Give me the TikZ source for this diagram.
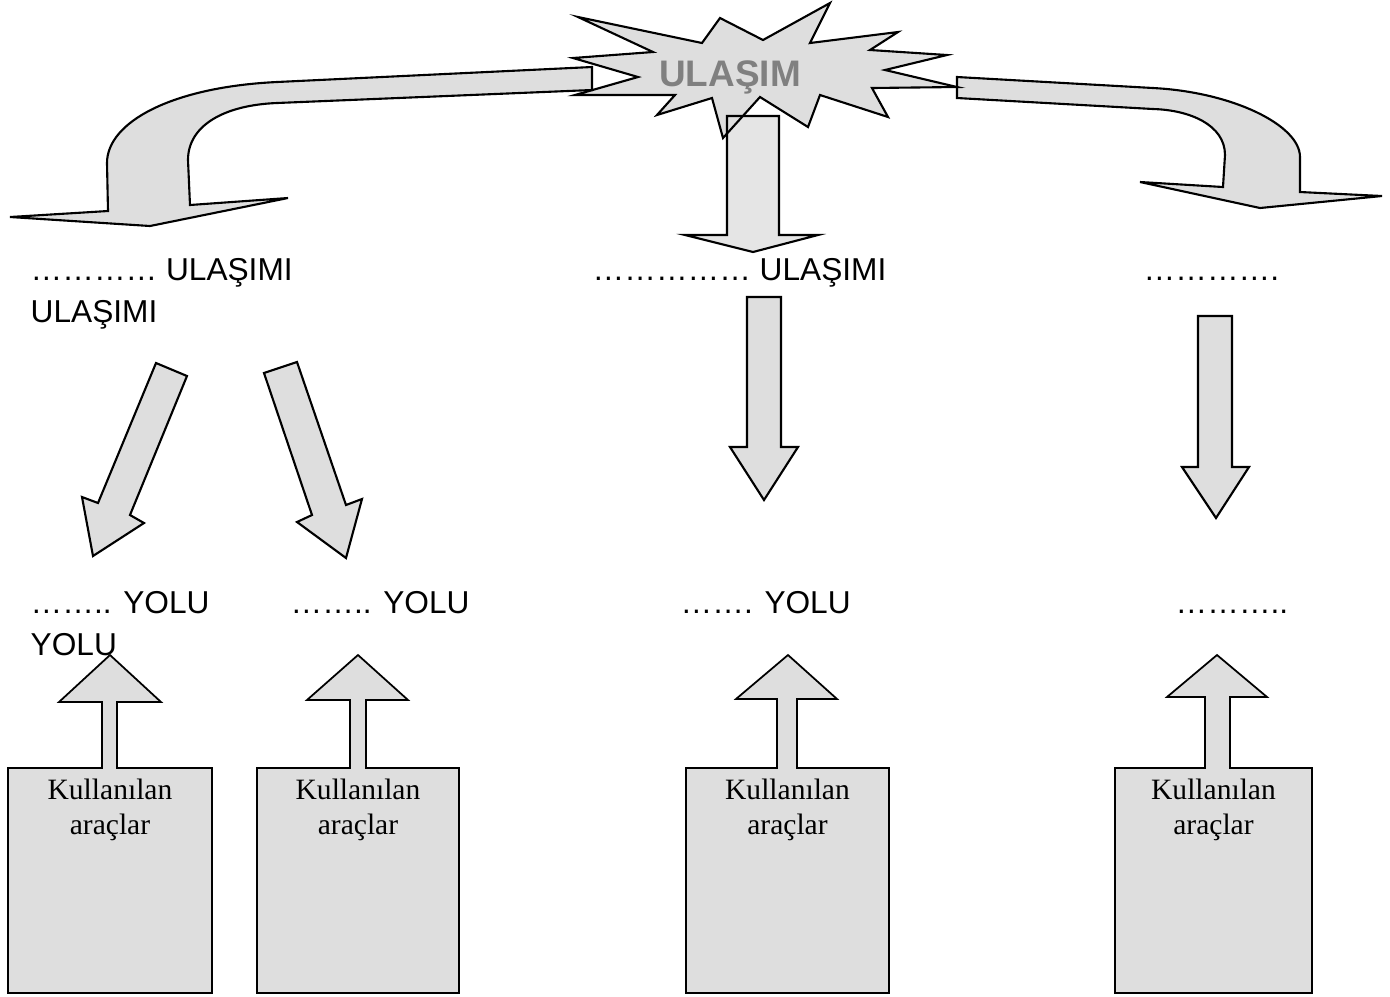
\documentclass[tikz,border=0pt]{standalone}
\usepackage{fontspec}
\setmainfont{Liberation Serif}
\newfontfamily\comicfont{Liberation Sans}
\usetikzlibrary{positioning}

% outline of the burst round the title
\newcommand\burstpath{(578,17) -- (702,43) -- (720,18) -- (763,40) -- (830,3) -- (810,43)
  -- (898,32) -- (870,50) -- (947,55) -- (885,70) -- (957,87) -- (872,88) -- (888,117)
  -- (820,95) -- (808,127) -- (760,97) -- (723,138) -- (712,98) -- (657,115) -- (675,95)
  -- (575,95) -- (638,77) -- (573,58) -- (653,52) -- cycle}

\begin{document}
\begin{tikzpicture}[x=0.01cm, y=-0.01cm,
    blockarrow/.style={draw, fill=black!13, line width=0.6pt, line join=miter},
    word/.style={font=\comicfont\fontsize{9}{12}\selectfont, anchor=base west, inner sep=0pt},
    tooltext/.style={font=\fontsize{8.4}{10}\selectfont, align=center, inner sep=0pt},
    title/.style={font=\comicfont\bfseries\fontsize{10.5}{12}\selectfont, text=black!50}
]
\useasboundingbox (0,0) rectangle (1390,996);

% title burst
\fill[black!13] \burstpath;
\node[title] (ulasim) at (730,77) {ULAŞIM};

% curved arrows to the sides
\draw[blockarrow] (592,67) -- (277,82) .. controls (172,87) and (107,122) .. (107,163)
  -- (108,211) -- (10,217) -- (150,226) -- (288,198) -- (190,205) -- (188,160)
  .. controls (188,125) and (225,105) .. (277,103) -- (592,90) -- cycle;
\draw[blockarrow] (957,77) -- (1153,88) .. controls (1232,92) and (1300,125) .. (1300,157)
  -- (1300,192) -- (1382,196) -- (1260,208) -- (1140,182) -- (1223,187) -- (1225,155)
  .. controls (1225,125) and (1190,110) .. (1153,109) -- (957,98) -- cycle;

% straight arrow down from the title
\draw[blockarrow, fill opacity=0.8] (727,116) -- (779,116) -- (779,235) -- (818,235)
  -- (753,252) -- (685,235) -- (727,235) -- cycle;
\draw[line width=0.6pt, line join=miter] \burstpath;

% first row of labels
\node[word] (road1) at (30,280) {………… ULAŞIMI};
\node[word] (road1b) at (30,322) {ULAŞIMI};
\node[word] (road2) at (592,280) {…………… ULAŞIMI};
\node[word] (road3) at (1143,280) {………….};

% arrows from first to second row
\draw[blockarrow] (156,363) -- (187,376) -- (130,515) -- (144,523) -- (93,556)
  -- (82,497) -- (98,503) -- cycle;
\draw[blockarrow] (264,373) -- (297,362) -- (346,505) -- (362,499) -- (346,558)
  -- (297,522) -- (312,515) -- cycle;
\draw[blockarrow] (747,297) -- (781,297) -- (781,447) -- (798,447) -- (764,500)
  -- (730,447) -- (747,447) -- cycle;
\draw[blockarrow] (1198,316) -- (1232,316) -- (1232,467) -- (1249,467) -- (1216,518)
  -- (1182,467) -- (1198,467) -- cycle;

% second row of labels
\node[word] (way1) at (30,613) {…….. YOLU};
\node[word] (way1b) at (30,655) {YOLU};
\node[word] (way2) at (290,613) {…….. YOLU};
\node[word] (way3) at (680,613) {……. YOLU};
\node[word] (way4) at (1175,613) {………..};

% boxes with their arrows up
\foreach \l/\r/\sl/\sr/\bl/\br/\tx/\by [count=\i] in
  {8/212/102/117/59/161/110/702, 257/459/350/366/307/408/358/700,
   686/889/777/797/736/837/788/699, 1115/1312/1205/1230/1167/1267/1217/697}
{
  \draw[blockarrow, line width=0.5pt] (\l,993) -- (\l,768) -- (\sl,768) -- (\sl,\by)
    -- (\bl,\by) -- (\tx,655) -- (\br,\by) -- (\sr,\by) -- (\sr,768) -- (\r,768)
    -- (\r,993) -- cycle;
  \node[tooltext, anchor=north] (tools\i) at ({(\l+\r)/2},778) {Kullanılan\\araçlar};
}
\end{tikzpicture}
\end{document}
